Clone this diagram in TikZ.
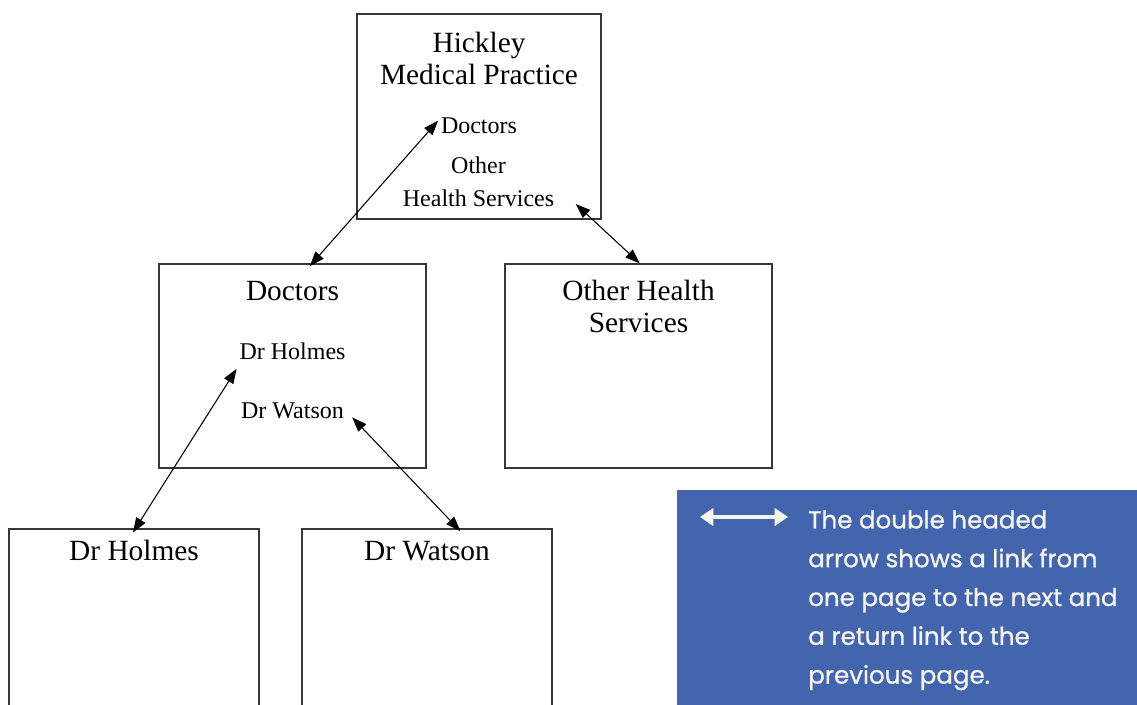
\documentclass[tikz,border=0pt]{standalone}
\usepackage{fontspec}
\setmainfont{Liberation Serif}
\newfontfamily\notefont{Poppins}[FakeBold=1]
\usepackage{tikz}
\usetikzlibrary{shapes,arrows.meta,positioning}
\definecolor{noteblue}{RGB}{66,101,173}
\definecolor{notewhite}{RGB}{246,244,236}
\definecolor{boxline}{RGB}{55,55,55}

\begin{document}
\begin{tikzpicture}[x=0.75pt, y=-0.75pt, node distance=12.5pt, auto]
        \tikzstyle{page} = [rectangle, draw=boxline, line width=0.9pt, inner sep=0pt]
        \tikzstyle{title} = [anchor=north, inner sep=0pt, align=center, font=\fontsize{22}{24.5}\selectfont]
        \tikzstyle{item} = [anchor=base, inner sep=2pt, font=\fontsize{18}{21}\selectfont]
        \tikzstyle{link} = [draw, line width=0.8pt, {Triangle[length=11pt,width=8pt]}-{Triangle[length=11pt,width=8pt]}]
        \tikzstyle{note} = [rectangle, fill=noteblue, inner sep=0pt]
        \tikzstyle{notetext} = [anchor=north west, inner sep=0pt, align=left, text=notewhite, font=\notefont\fontsize{18.4}{29.1}\selectfont]
        \tikzstyle{key} = [draw=notewhite, line width=3pt, {Triangle[length=10pt,width=13pt]}-{Triangle[length=10pt,width=13pt]}]

    \useasboundingbox (0,0) rectangle (1137,704);
    \clip (0,0) rectangle (1137,704);

    \node [page, minimum width=183pt, minimum height=153.75pt] (hickley) at (479,116.5) {};
    \node [title, below=13.5pt of hickley.north] (hickley title) {Hickley\\Medical Practice};
    \node [item] (hdoc) at (479,133) {Doctors};
    \node [item] (hother) at (478.5,173) {Other};
    \node [item] (hhealth) at (478.5,206) {Health Services};

    \node [page, minimum width=200.25pt, minimum height=153pt] (doctors) at (292.5,366) {};
    \node [title, below=13pt of doctors.north] (doctors title) {Doctors};
    \node [item] (dhol) at (292.5,359) {Dr Holmes};
    \node [item] (dwat) at (292.5,418) {Dr Watson};

    \node [page, minimum width=200.25pt, minimum height=153pt] (others) at (638.5,366) {};
    \node [title, below=12pt of others.north] (others title) {Other Health\\Services};

    \node [page, minimum width=187.5pt, minimum height=174pt] (holmes) at (134,645) {};
    \node [title, below=8.25pt of holmes.north] (holmes title) {Dr Holmes};
    \node [page, minimum width=187.5pt, minimum height=174pt] (watson) at (427,645) {};
    \node [title, below=9.75pt of watson.north] (watson title) {Dr Watson};

    \path [link] ([xshift=13pt,yshift=-2pt]doctors.north) -- ([yshift=3.5pt]hdoc.west);
    \path [link] ([xshift=14pt,yshift=1.5pt]hhealth.base east) -- ([xshift=1pt]others.north);
    \path [link] ([yshift=-5pt]dhol.south west) -- ([xshift=-0.75pt,yshift=-3pt]holmes.north);
    \path [link] ([xshift=4pt,yshift=3pt]dwat.south east) -- ([xshift=25pt,yshift=-2pt]watson.north);

    \node [note, minimum width=354.75pt, minimum height=172.5pt] (legend) at (913.5,605) {};
    \coordinate (keyl) at (700,517);
    \coordinate (keyr) at (788,517);
    \path [key] (keyl) -- (keyr);
    \node [notetext] (legend text) at (808,510) {The double headed\\arrow shows a link from\\one page to the next and\\a return link to the\\previous page.};

    \end{tikzpicture}
\end{document}
